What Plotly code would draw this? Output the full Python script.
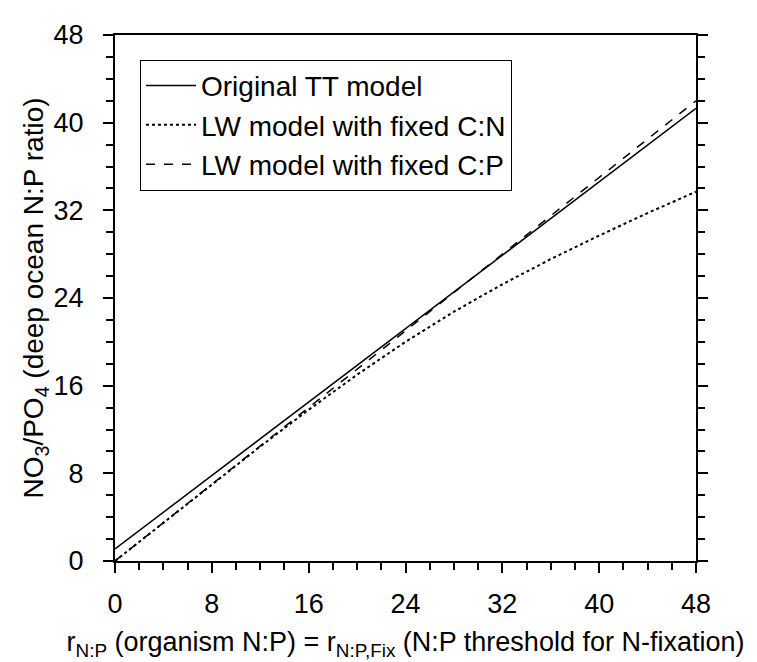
import plotly.graph_objects as go

# Data
x_vals = [0, 4, 8, 12, 16, 20, 24, 28, 32, 36, 40, 44, 48]
tt_model = [1.1, 4.45, 7.8, 11.15, 14.5, 17.85, 21.2, 24.55, 27.9, 31.25, 34.6, 37.95, 41.3]
lw_fixed_cn = [0.0, 3.5, 7.0, 10.45, 13.8, 17.0, 20.0, 22.75, 25.25, 27.55, 29.7, 31.75, 33.7]
lw_fixed_cp = [0.0, 3.5, 7.0, 10.5, 14.0, 17.5, 21.0, 24.5, 28.0, 31.5, 35.0, 38.5, 42.0]
series_names = ["Original TT model", "LW model with fixed C:N", "LW model with fixed C:P"]
tick_vals = [0, 8, 16, 24, 32, 40, 48]
tick_text = ["0", "8", "16", "24", "32", "40", "48"]

FONT = "Liberation Sans, Arial, sans-serif"

fig = go.Figure()
fig.add_trace(go.Scatter(x=x_vals, y=tt_model, mode="lines", name=series_names[0],
                         line=dict(color="black", width=1.5, dash="solid")))
fig.add_trace(go.Scatter(x=x_vals, y=lw_fixed_cn, mode="lines", name=series_names[1],
                         line=dict(color="black", width=2, dash="dot")))
fig.add_trace(go.Scatter(x=x_vals, y=lw_fixed_cp, mode="lines", name=series_names[2],
                         line=dict(color="black", width=1.5, dash="dash")))

axis_common = dict(
    range=[0, 48], tickvals=tick_vals, ticktext=tick_text,
    showgrid=False, zeroline=False,
    showline=True, linecolor="black", linewidth=2,
    ticks="outside", ticklen=10, tickwidth=2, tickcolor="black",
    minor=dict(dtick=2, ticks="outside", ticklen=7, tickwidth=2, tickcolor="black", showgrid=False),
    tickfont=dict(family=FONT, size=27, color="black"),
)

fig.update_layout(
    width=757, height=662,
    margin=dict(l=107, r=69, t=18, b=109),
    paper_bgcolor="white", plot_bgcolor="white",
    font=dict(family=FONT, color="black"),
    xaxis=dict(**axis_common, mirror=True, ticklabelstandoff=8,
               title=dict(text="r<sub>N:P</sub> (organism N:P) = r<sub>N:P,Fix</sub> (N:P threshold for N-fixation)",
                          font=dict(family=FONT, size=27, color="black"), standoff=14)),
    yaxis=dict(**axis_common, mirror="ticks", ticklabelstandoff=14,
               title=dict(text="NO<sub>3</sub>/PO<sub>4</sub> (deep ocean N:P ratio)",
                          font=dict(family=FONT, size=28, color="black"), standoff=2)),
    legend=dict(x=0.043, y=0.953, xanchor="left", yanchor="top",
                bgcolor="white", bordercolor="black", borderwidth=1,
                itemwidth=50,
                font=dict(family=FONT, size=28, color="black")),
    showlegend=True,
)

fig.write_html("out.html")
